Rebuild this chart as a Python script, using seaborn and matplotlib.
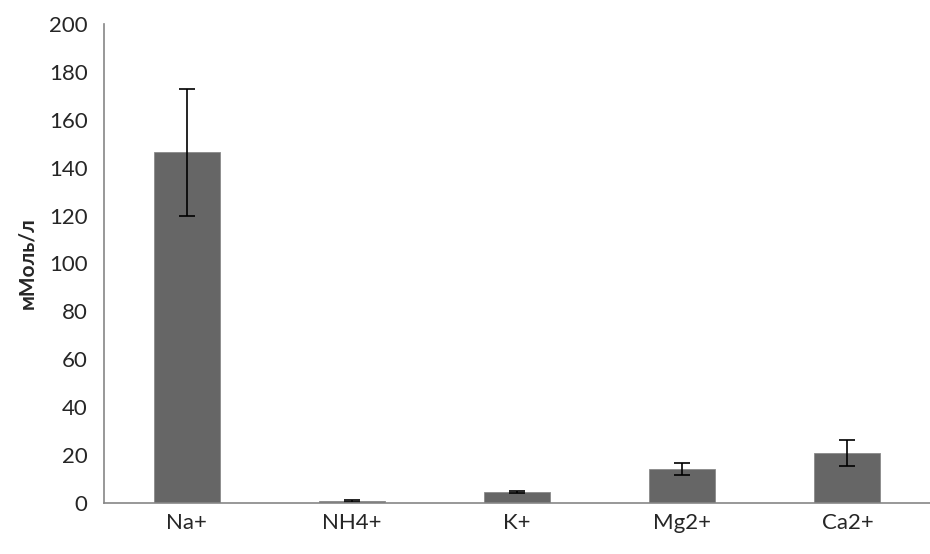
import matplotlib
matplotlib.use("Agg")
import matplotlib.pyplot as plt
import seaborn as sns
import pandas as pd

ions = ["Na+", "NH4+", "K+", "Mg2+", "Ca2+"]
means = [146.3, 0.9, 4.6, 14.2, 20.9]
errors = [26.7, 0.3, 0.3, 2.6, 5.4]

df = pd.DataFrame({"ion": ions, "value": means})

sns.set_style("white")
plt.rcParams["font.family"] = ["Lato", "DejaVu Sans"]

fig = plt.figure(figsize=(9.3, 5.54), dpi=100)
ax = fig.add_axes([0.112, 0.092, 0.888, 0.865])

sns.barplot(data=df, x="ion", y="value", color="#666666", width=0.4,
            saturation=1, edgecolor="#8a8a8a", linewidth=0.6, ax=ax)
ax.errorbar(range(len(ions)), means, yerr=errors, fmt="none",
            ecolor="black", elinewidth=1.2, capsize=6, capthick=1.2)

ax.set_ylim(0, 200)
ax.set_yticks(range(0, 201, 20))
ax.set_xlim(-0.5, 4.45)
ax.set_xlabel("")
ax.set_ylabel("мМоль/л", fontsize=15, fontweight="bold", labelpad=8)

# excel-style axes: gray left and bottom lines only
for side in ["top", "right"]:
    ax.spines[side].set_visible(False)
for side in ["left", "bottom"]:
    ax.spines[side].set_color("#868686")
    ax.spines[side].set_linewidth(1.2)

ax.tick_params(axis="y", length=6, width=1, color="#868686", direction="out",
               labelsize=16, pad=6)
ax.tick_params(axis="x", length=0, labelsize=16, pad=7)
ax.set_xticks(range(len(ions)), minor=False)
ax.set_xticks([i + 0.5 for i in range(-1, len(ions))], minor=True)
ax.tick_params(axis="x", which="minor", length=10, width=1, color="#868686",
               direction="out")

fig.savefig("out.png", dpi=100)
